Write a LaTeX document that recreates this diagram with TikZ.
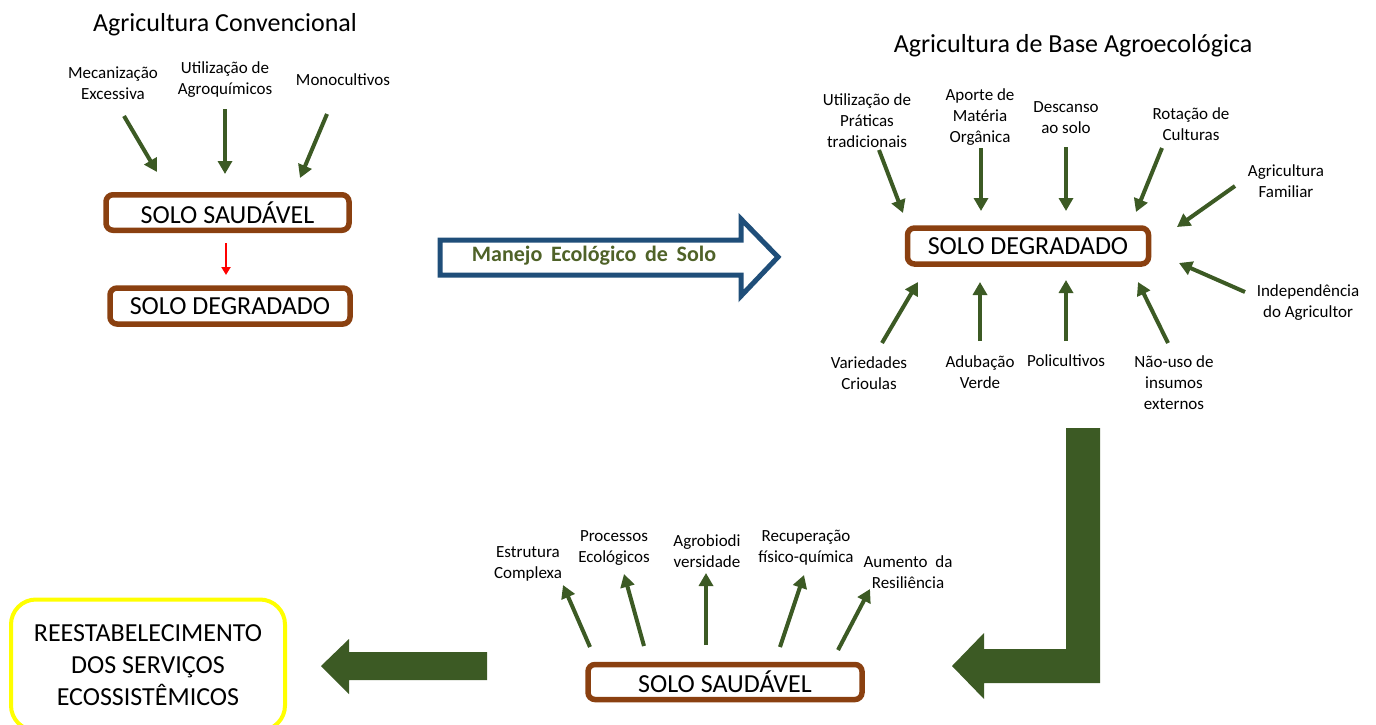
\documentclass[tikz,border=0pt]{standalone}
\usepackage{fontspec}
\setmainfont{Carlito}
\usetikzlibrary{arrows.meta}
\definecolor{agreen}{HTML}{3C5A24}
\definecolor{sbrown}{HTML}{8A4010}
\definecolor{ablue}{HTML}{1F4E79}
\definecolor{tgreen}{HTML}{4F6228}
\definecolor{ayellow}{HTML}{FFFF00}
\begin{document}
\begin{tikzpicture}[x=1pt,y=-1pt,
  garrow/.style={draw=agreen,line width=4pt,-{Triangle[length=13pt,width=14pt]}},
  rarrow/.style={draw=red,line width=2.2pt,-{Triangle[length=8pt,width=9pt]}},
  solobox/.style={draw=sbrown,line width=5.5pt,rounded corners=7pt,fill=white,
    font=\fontsize{26}{30}\selectfont,inner sep=0pt},
  lbl/.style={font=\fontsize{17}{21}\selectfont,align=center,inner sep=0pt},
  ttl/.style={font=\fontsize{26}{30}\selectfont,inner sep=0pt},
  bigarrow/.style={fill=agreen,draw=none}]
\path[use as bounding box] (0,0) rectangle (1376,725);

% ---------- Agricultura Convencional ----------
\node[ttl] (t1) at (225,25) {Agricultura Convencional};
\node[lbl] (lmec) at (113,83.5) {Mecanização\\Excessiva};
\node[lbl] (lutl) at (225,79.5) {Utilização de\\Agroquímicos};
\node[lbl] (lmon) at (343,80) {Monocultivos};
\node[solobox,minimum width=243pt,minimum height=35.5pt] (s1) at (227.5,212.5) {SOLO SAUDÁVEL};
\node[solobox,minimum width=240pt,minimum height=36pt] (d1) at (230,306) {SOLO DEGRADADO};
\coordinate (a1s) at (124,116); \coordinate (a1e) at (157,172);
\coordinate (a2s) at (225,109); \coordinate (a2e) at (225,174);
\coordinate (a3s) at (327,114); \coordinate (a3e) at (300,178);
\draw[garrow] (a1s) -- (a1e);
\draw[garrow] (a2s) -- (a2e);
\draw[garrow] (a3s) -- (a3e);
\coordinate (rs) at (226,243); \coordinate (re) at (226,275);
\draw[rarrow] (rs) -- (re);

% ---------- Manejo arrow ----------
\draw[ablue,line width=5pt,fill=white,line join=miter]
  (440,240) -- (741,240) -- (741,219) -- (778,257) -- (741,296) -- (741,275) -- (440,275) -- cycle;
\node[font=\fontsize{22}{26}\selectfont\bfseries,text=tgreen,inner sep=0pt] (man) at (594,256)
  {Manejo\, Ecológico\, de\, Solo};

% ---------- Agricultura de Base Agroecologica ----------
\node[ttl] (t2) at (1073,46) {Agricultura de Base Agroecológica};
\node[solobox,minimum width=241pt,minimum height=36pt] (d2) at (1028,246) {SOLO DEGRADADO};
\node[lbl] (rutl) at (867,121) {Utilização de\\Práticas\\tradicionais};
\node[lbl] (rapo) at (980,117) {Aporte de\\Matéria\\Orgânica};
\node[lbl] (rdes) at (1066,117.5) {Descanso\\ao solo};
\node[lbl] (rrot) at (1191,124) {Rotação de\\Culturas};
\node[lbl] (rfam) at (1286,181) {Agricultura\\Familiar};
\node[lbl] (rind) at (1308,303) {Independência\\do Agricultor};
\node[lbl] (rvar) at (869,373.5) {Variedades\\Crioulas};
\node[lbl] (radu) at (980,372.5) {Adubação\\Verde};
\node[lbl] (rpol) at (1066,361) {Policultivos};
\node[lbl] (rnao) at (1174,383) {Não-uso de\\insumos\\externos};
\coordinate (b1s) at (879,150);  \coordinate (b1e) at (903,213);
\coordinate (b2s) at (981,148);  \coordinate (b2e) at (981,211);
\coordinate (b3s) at (1066,147); \coordinate (b3e) at (1066,211);
\coordinate (b4s) at (1162,148); \coordinate (b4e) at (1136,212);
\coordinate (b5s) at (1235,186); \coordinate (b5e) at (1177,227);
\coordinate (b6s) at (1245,292); \coordinate (b6e) at (1179,263);
\coordinate (c1s) at (882,343);  \coordinate (c1e) at (918,282);
\coordinate (c2s) at (980,341);  \coordinate (c2e) at (980,282);
\coordinate (c3s) at (1066,341); \coordinate (c3e) at (1066,280);
\coordinate (c4s) at (1168,343); \coordinate (c4e) at (1138,282);
\foreach \p in {b1,b2,b3,b4,b5,b6,c1,c2,c3,c4}
  \draw[garrow] (\p s) -- (\p e);

% ---------- L-shaped arrow ----------
\path[bigarrow] (1066,428) -- (1100,428) -- (1100,683) -- (984,683) -- (984,699)
  -- (952,666) -- (984,633) -- (984,649) -- (1066,649) -- cycle;

% ---------- bottom: Solo Saudavel ----------
\node[solobox,minimum width=274pt,minimum height=35pt] (s2) at (725,682) {SOLO SAUDÁVEL};
\node[lbl] (best) at (528,563.5) {Estrutura\\Complexa};
\node[lbl] (bpro) at (614,548) {Processos\\Ecológicos};
\node[lbl] (bagr) at (707,551) {Agrobiodi\\versidade};
\node[lbl] (brec) at (806,548) {Recuperação\\físico-química};
\node[lbl] (baum) at (908,572) {Aumento\ \ da\\Resiliência};
\coordinate (e1s) at (590,647); \coordinate (e1e) at (563,585);
\coordinate (e2s) at (644,646); \coordinate (e2e) at (624,574);
\coordinate (e3s) at (706,645); \coordinate (e3e) at (706,573);
\coordinate (e4s) at (780,647); \coordinate (e4e) at (804,575);
\coordinate (e5s) at (838,650); \coordinate (e5e) at (870,589);
\foreach \p in {e1,e2,e3,e4,e5}
  \draw[garrow] (\p s) -- (\p e);

% ---------- left arrow ----------
\path[bigarrow] (487,652) -- (349,652) -- (349,639) -- (321,666) -- (349,694)
  -- (349,680) -- (487,680) -- cycle;

% ---------- Reestabelecimento ----------
\begin{scope}
\clip (0,0) rectangle (1376,725);
\node[draw=ayellow,line width=4pt,rounded corners=25pt,minimum width=274pt,minimum height=131pt,
  align=center,font=\fontsize{26}{32}\selectfont,inner sep=0pt] (rest) at (148,665)
  {REESTABELECIMENTO\\DOS SERVIÇOS\\ECOSSISTÊMICOS};
\end{scope}
\end{tikzpicture}
\end{document}
